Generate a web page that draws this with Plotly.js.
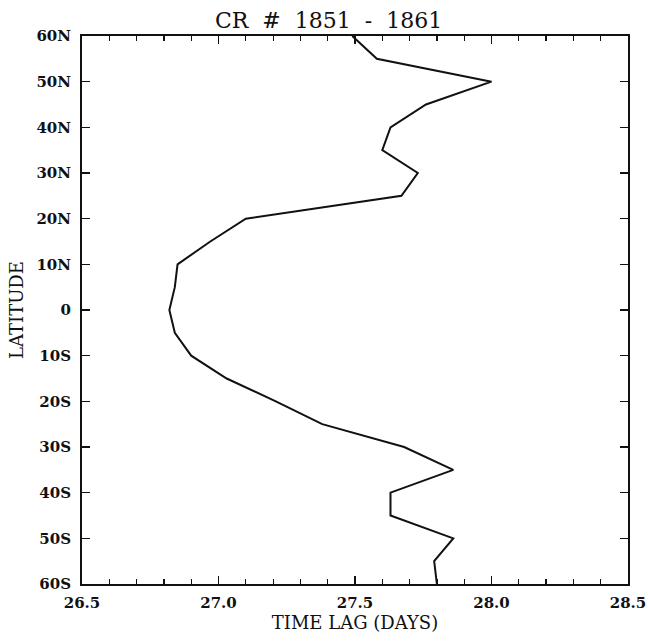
<!DOCTYPE html>
<html>
<head>
<meta charset="utf-8">
<script src="https://cdn.plot.ly/plotly-3.0.1.min.js"></script>
<style>html,body{margin:0;padding:0;background:#fff;}#chart{width:648px;height:641px;}</style>
</head>
<body>
<div id="chart"></div>
<script>
// Latitude (degrees, + = North) and time lag (days)
const latitude = [60, 55, 50, 45, 40, 35, 30, 25, 20, 15, 10, 5, 0, -5, -10, -15, -20, -25, -30, -35, -40, -45, -50, -55, -60];
const timeLag = [27.49, 27.58, 28.00, 27.76, 27.63, 27.60, 27.73, 27.67, 27.10, 26.97, 26.85, 26.84, 26.82, 26.84, 26.90, 27.03, 27.21, 27.38, 27.68, 27.86, 27.63, 27.63, 27.86, 27.79, 27.80];
const latTickVals = [60, 50, 40, 30, 20, 10, 0, -10, -20, -30, -40, -50, -60];
const latTickText = ['60N', '50N', '40N', '30N', '20N', '10N', '0', '10S', '20S', '30S', '40S', '50S', '60S'];
const lagTickVals = [26.5, 27.0, 27.5, 28.0, 28.5];
const lagTickText = ['26.5', '27.0', '27.5', '28.0', '28.5'];

const serif = 'DejaVu Serif, Liberation Serif, serif';

Plotly.newPlot('chart', [{
  x: timeLag,
  y: latitude,
  type: 'scatter',
  mode: 'lines',
  line: {color: '#111', width: 2},
  hoverinfo: 'x+y'
}], {
  width: 648, height: 641,
  margin: {l: 82, r: 20, t: 36, b: 57},
  paper_bgcolor: '#fff', plot_bgcolor: '#fff',
  showlegend: false,
  title: {text: 'CR  #  1851  -  1861', font: {family: serif, size: 22, color: '#111'},
          xref: 'container', yref: 'container', x: 0.507, xanchor: 'center', y: 0.968, yanchor: 'middle'},
  xaxis: {
    range: [26.5, 28.5], tickvals: lagTickVals, ticktext: lagTickText,
    ticks: 'inside', ticklen: 8, tickwidth: 1.5, tickcolor: '#111',
    minor: {dtick: 0.1, ticks: 'inside', ticklen: 5, tickwidth: 1.2, tickcolor: '#111', showgrid: false},
    showline: true, linecolor: '#111', linewidth: 2, mirror: 'ticks',
    showgrid: false, zeroline: false,
    ticklabelstandoff: 4,
    tickfont: {family: serif, size: 15, color: '#111', weight: 'bold'},
    title: {text: 'TIME LAG (DAYS)', font: {family: serif, size: 18, color: '#111'}, standoff: 4}
  },
  yaxis: {
    range: [-60, 60], tickvals: latTickVals, ticktext: latTickText,
    ticks: 'inside', ticklen: 8, tickwidth: 1.5, tickcolor: '#111',
    showline: true, linecolor: '#111', linewidth: 2, mirror: 'ticks',
    showgrid: false, zeroline: false,
    ticklabelstandoff: 6,
    tickfont: {family: serif, size: 15, color: '#111', weight: 'bold'},
    title: {text: 'LATITUDE', font: {family: serif, size: 18, color: '#111'}, standoff: 8}
  }
}, {displayModeBar: false, staticPlot: true});
</script>
</body>
</html>
